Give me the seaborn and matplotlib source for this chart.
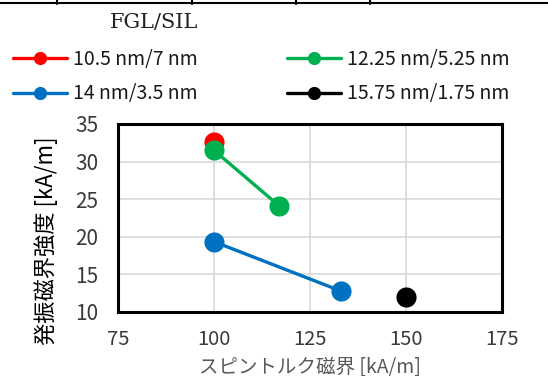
import matplotlib
matplotlib.use("Agg")
import matplotlib.pyplot as plt
import seaborn as sns
import pandas as pd
from matplotlib.lines import Line2D

series_names = ["10.5 nm/7 nm", "12.25 nm/5.25 nm", "14 nm/3.5 nm", "15.75 nm/1.75 nm"]
series_x = [[100], [100, 117.0], [100, 133.0], [150]]
series_y = [[32.65], [31.5, 24.1], [19.35, 12.8], [11.95]]
colors = ["#FF0000", "#00B050", "#0070C0", "#000000"]
x_ticks = [75, 100, 125, 150, 175]
y_ticks = [10, 15, 20, 25, 30, 35]

rows = []
for name, xs, ys in zip(series_names, series_x, series_y):
    for x, y in zip(xs, ys):
        rows.append({"series": name, "x": x, "y": y})
df = pd.DataFrame(rows)

sns.set_theme(style="white")
plt.rcParams['font.family'] = ['Noto Sans CJK JP', 'DejaVu Sans']

W, H = 548, 376
fig = plt.figure(figsize=(W/100, H/100), dpi=100)
ax = fig.add_axes([118/W, 1-312/H, 384/W, 188/H])

palette = dict(zip(series_names, colors))
for name in series_names:
    sub = df[df.series == name]
    sns.lineplot(data=sub, x="x", y="y", ax=ax, color=palette[name], marker="o",
                 markersize=14.5, markeredgewidth=0, linewidth=2.4, legend=False,
                 zorder=3)

ax.set_xlim(75, 175)
ax.set_ylim(10, 35)
ax.set_xticks(x_ticks)
ax.set_yticks(y_ticks)
ax.grid(True, color="#D9D9D9", linewidth=1.2, zorder=0)
ax.set_axisbelow(True)
for s in ax.spines.values():
    s.set_color("black")
    s.set_linewidth(2.2)
ax.tick_params(axis="both", labelsize=15, length=0)
ax.tick_params(axis="y", pad=14)
ax.tick_params(axis="x", labelsize=14.5, pad=12)
for t in ax.get_xticklabels() + ax.get_yticklabels():
    t.set_color("#3A3A3A")
ax.set_xlabel("スピントルク磁界 [kA/m]", fontsize=14, color="#595959", va="center")
ax.xaxis.set_label_coords(0.5, (312-367)/188)
ax.set_ylabel("発振磁界強度 [kA/m]", fontsize=16, color="black", va="center")
ax.yaxis.set_label_coords((46-118)/384, (312-241)/188)

order = [0, 2, 1, 3]
handles = [Line2D([0], [0], color=colors[i], marker="o", markersize=9.5, linewidth=2.4,
                  markeredgewidth=0) for i in order]
labels = [series_names[i] for i in order]
leg = fig.legend(handles=handles, labels=labels, loc="upper left",
                 bbox_to_anchor=(-5/W, 1-31/H), ncol=2, frameon=False,
                 fontsize=14, handlelength=2.8, columnspacing=4.6,
                 handletextpad=0.3, labelspacing=0.72)
for t in leg.get_texts():
    t.set_color("#1A1A1A")

fig.text(154/W, 1-23/H, "FGL/SIL", fontsize=15, family="DejaVu Serif",
         ha="center", va="center", color="#222222")

# top border fragment
fig.add_artist(Line2D([0, 1], [1-2.5/H, 1-2.5/H], color="black", linewidth=1.5,
                      transform=fig.transFigure))
for xv in [57, 192, 296, 370]:
    fig.add_artist(Line2D([xv/W, xv/W], [1, 1-4/H], color="black",
                          linewidth=1.5, transform=fig.transFigure))

fig.savefig("out.png", dpi=100)
